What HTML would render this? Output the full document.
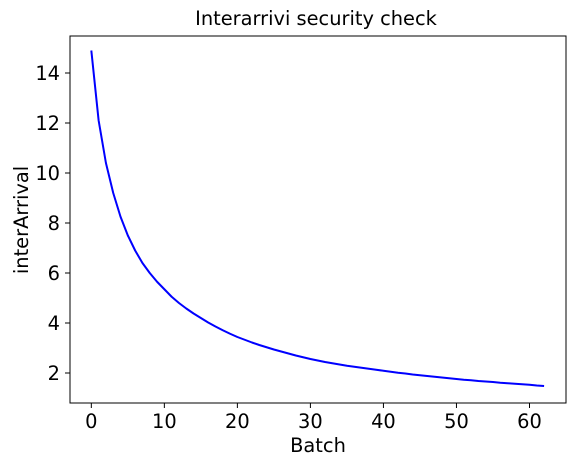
<!DOCTYPE html>
<html><head><meta charset="utf-8"><style>
body{margin:0;background:#fff;}
svg text{font-family:"DejaVu Sans","Liberation Sans",sans-serif;fill:#000;}
</style></head><body>
<svg id="chart" width="575" height="466" xmlns="http://www.w3.org/2000/svg">
<rect width="575" height="466" fill="#fff"/>
<text x="316" y="25" font-size="19.4" text-anchor="middle">Interarrivi security check</text>
<g id="plot"></g>
<text x="318" y="452" font-size="19.4" text-anchor="middle">Batch</text>
<text transform="translate(28,220) rotate(-90)" font-size="19.4" text-anchor="middle">interArrival</text>
</svg>
<script>
const batches=[];for(let i=0;i<=62;i++)batches.push(i);
const interArrival=[14.9,12.1,10.4,9.2,8.25,7.5,6.9,6.4,6.0,5.65,5.35,5.05,4.8,4.58,4.38,4.2,4.02,3.86,3.71,3.57,3.44,3.33,3.22,3.12,3.03,2.94,2.86,2.78,2.70,2.63,2.56,2.5,2.44,2.39,2.34,2.29,2.25,2.21,2.17,2.13,2.09,2.05,2.01,1.98,1.94,1.91,1.88,1.85,1.82,1.79,1.76,1.73,1.71,1.68,1.66,1.64,1.61,1.59,1.57,1.55,1.53,1.5,1.48];
const xTicks=[0,10,20,30,40,50,60];
const yTicks=[2,4,6,8,10,12,14];
const L=70,R=566,T=36,B=403;
const xMin=-2.92,xMax=65.0,yMin=0.8,yMax=15.48;
const sx=v=>L+(v-xMin)/(xMax-xMin)*(R-L);
const sy=v=>B-(v-yMin)/(yMax-yMin)*(B-T);
const NS="http://www.w3.org/2000/svg";
const g=document.getElementById('plot');
function mk(t,a){const e=document.createElementNS(NS,t);for(const k in a)e.setAttribute(k,a[k]);g.appendChild(e);return e;}
let d=batches.map((x,i)=>(i?'L':'M')+sx(x).toFixed(2)+','+sy(interArrival[i]).toFixed(2)).join(' ');
const line=mk('path',{d:d,fill:'none',stroke:'#0000ff','stroke-width':2,'stroke-linejoin':'round'});


const frame=mk('rect',{x:L,y:T,width:R-L,height:B-T,fill:'none',stroke:'#000','stroke-width':1});


xTicks.forEach(v=>{const x=sx(v);
 const t=mk('line',{x1:x,x2:x,y1:B,y2:B+5,stroke:'#000'});
 
 
 const l=mk('text',{x:x,y:B+25,'font-size':19.4,'text-anchor':'middle'});l.textContent=v;
 
 
});
yTicks.forEach(v=>{const y=sy(v);
 const t=mk('line',{x1:L-5,x2:L,y1:y,y2:y,stroke:'#000'});
 
 
 const l=mk('text',{x:L-10,y:y+7,'font-size':19.4,'text-anchor':'end'});l.textContent=v;
 
 
});
</script>
</body></html>
